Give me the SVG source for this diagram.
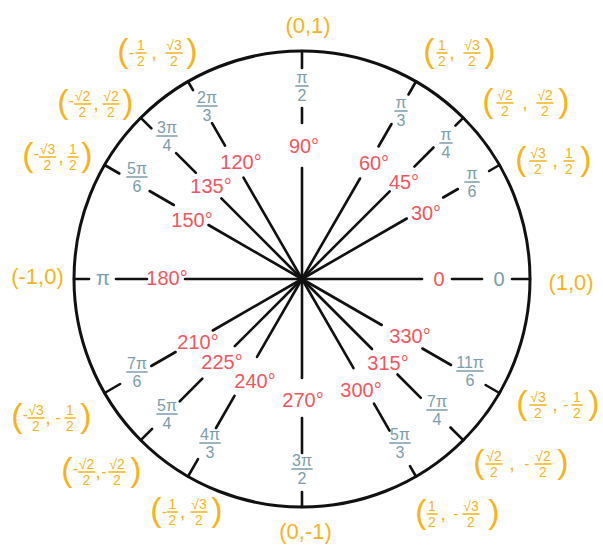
<svg xmlns="http://www.w3.org/2000/svg" width="603" height="546" viewBox="0 0 603 546">
<style>
text { font-family: "Liberation Sans", "DejaVu Sans", sans-serif; }
.ring { fill:none; stroke:#111; stroke-width:3; }
.spoke { stroke:#111; stroke-width:2.6; stroke-linecap:round; fill:none; }
.deg { fill:#F4555E; font-size:20px; text-anchor:middle; }
.rad { fill:#7C9DAA; font-size:16px; text-anchor:middle; }
.radb { fill:#7C9DAA; font-size:20px; text-anchor:middle; }
.rbar { stroke:#7C9DAA; stroke-width:1.7; stroke-linecap:round; }
.co { fill:#F6B31B; text-anchor:middle; }
.cs { font-size:22px; }
.cp { font-size:34px; }
.cf { font-size:14px; }
.cm { font-size:16px; }
.cc { font-size:20px; }
.cbar { stroke:#F6B31B; stroke-width:1.6; stroke-linecap:round; }
</style>
<rect width="603" height="546" fill="#fff"/>
<g id="unit-circle"><circle class="ring" cx="302" cy="279" r="228"/></g>
<g id="connectors">
<line class="spoke" x1="302" y1="279" x2="422" y2="279"/><line class="spoke" x1="452" y1="279" x2="482" y2="279"/><line class="spoke" x1="512" y1="279" x2="530" y2="279"/>
<line class="spoke" x1="302" y1="279" x2="406.8" y2="218.5"/><line class="spoke" x1="443.2" y1="197.5" x2="457.9" y2="189"/><line class="spoke" x1="489.1" y1="171" x2="499.4" y2="165"/>
<line class="spoke" x1="302" y1="279" x2="389.7" y2="191.3"/><line class="spoke" x1="414.4" y1="166.6" x2="433.5" y2="147.5"/><line class="spoke" x1="455.4" y1="125.6" x2="463.2" y2="117.8"/>
<line class="spoke" x1="302" y1="279" x2="360" y2="178.5"/><line class="spoke" x1="378.5" y1="146.5" x2="391.5" y2="124"/><line class="spoke" x1="408.5" y1="94.5" x2="416" y2="81.5"/>
<line class="spoke" x1="302" y1="279" x2="302" y2="168"/><line class="spoke" x1="302" y1="123" x2="302" y2="108"/><line class="spoke" x1="302" y1="68" x2="302" y2="51"/>
<line class="spoke" x1="302" y1="279" x2="243.5" y2="177.7"/><line class="spoke" x1="225" y1="145.6" x2="212" y2="123.1"/><line class="spoke" x1="193" y1="90.2" x2="188" y2="81.5"/>
<line class="spoke" x1="302" y1="279" x2="221.4" y2="198.4"/><line class="spoke" x1="195.9" y1="172.9" x2="176.1" y2="153.1"/><line class="spoke" x1="151.4" y1="128.4" x2="140.8" y2="117.8"/>
<line class="spoke" x1="302" y1="279" x2="208.5" y2="225"/><line class="spoke" x1="173.8" y1="205" x2="149.6" y2="191"/><line class="spoke" x1="119.3" y1="173.5" x2="104.6" y2="165"/>
<line class="spoke" x1="302" y1="279" x2="185" y2="279"/><line class="spoke" x1="147" y1="279" x2="116" y2="279"/><line class="spoke" x1="89" y1="279" x2="74" y2="279"/>
<line class="spoke" x1="302" y1="279" x2="212.8" y2="330.5"/><line class="spoke" x1="175.6" y1="352" x2="151.3" y2="366"/><line class="spoke" x1="120.1" y1="384" x2="104.6" y2="393"/>
<line class="spoke" x1="302" y1="279" x2="234.8" y2="346.2"/><line class="spoke" x1="202.3" y1="378.7" x2="179.7" y2="401.3"/><line class="spoke" x1="152.1" y1="428.9" x2="140.8" y2="440.2"/>
<line class="spoke" x1="302" y1="279" x2="257" y2="356.9"/><line class="spoke" x1="234.5" y1="395.9" x2="216" y2="428"/><line class="spoke" x1="198" y1="459.1" x2="188" y2="476.5"/>
<line class="spoke" x1="302" y1="279" x2="302" y2="378"/><line class="spoke" x1="302" y1="418" x2="302" y2="453"/><line class="spoke" x1="302" y1="492" x2="302" y2="507"/>
<line class="spoke" x1="302" y1="279" x2="353.5" y2="368.2"/><line class="spoke" x1="374" y1="403.7" x2="389.5" y2="430.6"/><line class="spoke" x1="410" y1="466.1" x2="416" y2="476.5"/>
<line class="spoke" x1="302" y1="279" x2="372" y2="349"/><line class="spoke" x1="397.5" y1="374.5" x2="420.8" y2="397.8"/><line class="spoke" x1="450.5" y1="427.5" x2="463.2" y2="440.2"/>
<line class="spoke" x1="302" y1="279" x2="381.7" y2="325"/><line class="spoke" x1="422.4" y1="348.5" x2="451" y2="365"/><line class="spoke" x1="485.6" y1="385" x2="499.4" y2="393"/>
</g>

<g id="angle-0">
<text class="deg" x="439" y="286">0</text>
<text class="radb" x="499" y="286">0</text>
<text class="co cs" x="571" y="290">(1,0)</text>
</g>

<g id="angle-30">
<text class="deg" x="426" y="220">30°</text>
<text class="rad" x="472" y="179">π</text><line class="rbar" x1="465" y1="182" x2="479" y2="182"/><text class="rad" x="472" y="197">6</text>
<text class="co cp" x="521" y="170">(</text>
<text class="co cf" x="538" y="158">√3</text><line class="cbar" x1="530" y1="161" x2="546" y2="161"/><text class="co cf" x="538" y="174">2</text>
<text class="co cc" x="555" y="167">,</text>
<text class="co cf" x="569" y="158">1</text><line class="cbar" x1="564" y1="161" x2="574" y2="161"/><text class="co cf" x="569" y="174">2</text>
<text class="co cp" x="586" y="170">)</text>
</g>

<g id="angle-45">
<text class="deg" x="404" y="189">45°</text>
<text class="rad" x="446" y="140">π</text><line class="rbar" x1="440" y1="143" x2="452" y2="143"/><text class="rad" x="446" y="158">4</text>
<text class="co cp" x="488" y="112">(</text>
<text class="co cf" x="505" y="100">√2</text><line class="cbar" x1="497" y1="103" x2="513" y2="103"/><text class="co cf" x="505" y="116">2</text>
<text class="co cc" x="525" y="109">,</text>
<text class="co cf" x="545" y="100">√2</text><line class="cbar" x1="537" y1="103" x2="553" y2="103"/><text class="co cf" x="545" y="116">2</text>
<text class="co cp" x="564" y="112">)</text>
</g>

<g id="angle-60">
<text class="deg" x="374" y="170">60°</text>
<text class="rad" x="401" y="108">π</text><line class="rbar" x1="395" y1="111" x2="407" y2="111"/><text class="rad" x="401" y="126">3</text>
<text class="co cp" x="429" y="62">(</text>
<text class="co cf" x="442" y="50">1</text><line class="cbar" x1="437" y1="53" x2="447" y2="53"/><text class="co cf" x="442" y="66">2</text>
<text class="co cc" x="452" y="59">,</text>
<text class="co cf" x="472" y="50">√3</text><line class="cbar" x1="464" y1="53" x2="480" y2="53"/><text class="co cf" x="472" y="66">2</text>
<text class="co cp" x="490" y="62">)</text>
</g>

<g id="angle-90">
<text class="deg" x="304" y="153">90°</text>
<text class="rad" x="302" y="83">π</text><line class="rbar" x1="296" y1="86" x2="308" y2="86"/><text class="rad" x="302" y="101">2</text>
<text class="co cs" x="308" y="33">(0,1)</text>
</g>

<g id="angle-120">
<text class="deg" x="241" y="169">120°</text>
<text class="rad" x="207" y="103">2π</text><line class="rbar" x1="197" y1="106" x2="217" y2="106"/><text class="rad" x="207" y="121">3</text>
<text class="co cp" x="123" y="62">(</text>
<text class="co cm" x="131.5" y="58">-</text>
<text class="co cf" x="141" y="50">1</text><line class="cbar" x1="136" y1="53" x2="146" y2="53"/><text class="co cf" x="141" y="66">2</text>
<text class="co cc" x="154" y="59">,</text>
<text class="co cf" x="174" y="50">√3</text><line class="cbar" x1="166" y1="53" x2="182" y2="53"/><text class="co cf" x="174" y="66">2</text>
<text class="co cp" x="192" y="62">)</text>
</g>

<g id="angle-135">
<text class="deg" x="211" y="193">135°</text>
<text class="rad" x="167" y="133">3π</text><line class="rbar" x1="157" y1="136" x2="177" y2="136"/><text class="rad" x="167" y="151">4</text>
<text class="co cp" x="63" y="113">(</text>
<text class="co cm" x="71.5" y="106">-</text>
<text class="co cf" x="82.5" y="101">√2</text><line class="cbar" x1="74.5" y1="104" x2="90.5" y2="104"/><text class="co cf" x="82.5" y="117">2</text>
<text class="co cc" x="96" y="110">,</text>
<text class="co cf" x="111" y="101">√2</text><line class="cbar" x1="103" y1="104" x2="119" y2="104"/><text class="co cf" x="111" y="117">2</text>
<text class="co cp" x="128" y="113">)</text>
</g>

<g id="angle-150">
<text class="deg" x="192" y="227">150°</text>
<text class="rad" x="137" y="174">5π</text><line class="rbar" x1="127" y1="177" x2="147" y2="177"/><text class="rad" x="137" y="192">6</text>
<text class="co cp" x="28" y="166">(</text>
<text class="co cm" x="36.5" y="159">-</text>
<text class="co cf" x="47.5" y="154">√3</text><line class="cbar" x1="39.5" y1="157" x2="55.5" y2="157"/><text class="co cf" x="47.5" y="170">2</text>
<text class="co cc" x="61" y="163">,</text>
<text class="co cf" x="73" y="154">1</text><line class="cbar" x1="68" y1="157" x2="78" y2="157"/><text class="co cf" x="73" y="170">2</text>
<text class="co cp" x="87" y="166">)</text>
</g>

<g id="angle-180">
<text class="deg" x="167" y="285">180°</text>
<text class="radb" x="103" y="285">π</text>
<text class="co cs" x="37.5" y="284">(-1,0)</text>
</g>

<g id="angle-210">
<text class="deg" x="198" y="349">210°</text>
<text class="rad" x="137" y="369">7π</text><line class="rbar" x1="127" y1="372" x2="147" y2="372"/><text class="rad" x="137" y="387">6</text>
<text class="co cp" x="17" y="427">(</text>
<text class="co cm" x="25.5" y="420">-</text>
<text class="co cf" x="36" y="415">√3</text><line class="cbar" x1="28" y1="418" x2="44" y2="418"/><text class="co cf" x="36" y="431">2</text>
<text class="co cc" x="48" y="424">,</text>
<text class="co cm" x="58" y="423">-</text>
<text class="co cf" x="70" y="415">1</text><line class="cbar" x1="65" y1="418" x2="75" y2="418"/><text class="co cf" x="70" y="431">2</text>
<text class="co cp" x="86" y="427">)</text>
</g>

<g id="angle-225">
<text class="deg" x="222" y="369">225°</text>
<text class="rad" x="167" y="411">5π</text><line class="rbar" x1="157" y1="414" x2="177" y2="414"/><text class="rad" x="167" y="429">4</text>
<text class="co cp" x="67" y="481">(</text>
<text class="co cm" x="75.5" y="474">-</text>
<text class="co cf" x="86.5" y="469">√2</text><line class="cbar" x1="78.5" y1="472" x2="94.5" y2="472"/><text class="co cf" x="86.5" y="485">2</text>
<text class="co cc" x="98" y="478">,</text>
<text class="co cm" x="104" y="477">-</text>
<text class="co cf" x="117" y="469">√2</text><line class="cbar" x1="109" y1="472" x2="125" y2="472"/><text class="co cf" x="117" y="485">2</text>
<text class="co cp" x="136" y="481">)</text>
</g>

<g id="angle-240">
<text class="deg" x="255" y="388">240°</text>
<text class="rad" x="210" y="440">4π</text><line class="rbar" x1="200" y1="443" x2="220" y2="443"/><text class="rad" x="210" y="458">3</text>
<text class="co cp" x="156" y="521">(</text>
<text class="co cm" x="164.5" y="517">-</text>
<text class="co cf" x="172.5" y="509">1</text><line class="cbar" x1="167.5" y1="512" x2="177.5" y2="512"/><text class="co cf" x="172.5" y="525">2</text>
<text class="co cc" x="182.5" y="518">,</text>
<text class="co cf" x="199" y="509">√3</text><line class="cbar" x1="191" y1="512" x2="207" y2="512"/><text class="co cf" x="199" y="525">2</text>
<text class="co cp" x="217" y="521">)</text>
</g>

<g id="angle-270">
<text class="deg" x="303" y="407">270°</text>
<text class="rad" x="302" y="466">3π</text><line class="rbar" x1="292" y1="469" x2="312" y2="469"/><text class="rad" x="302" y="484">2</text>
<text class="co cs" x="305.5" y="539">(0,-1)</text>
</g>

<g id="angle-300">
<text class="deg" x="361" y="397">300°</text>
<text class="rad" x="400" y="440">5π</text><line class="rbar" x1="390" y1="443" x2="410" y2="443"/><text class="rad" x="400" y="458">3</text>
<text class="co cp" x="421" y="523">(</text>
<text class="co cf" x="432" y="511">1</text><line class="cbar" x1="427" y1="514" x2="437" y2="514"/><text class="co cf" x="432" y="527">2</text>
<text class="co cc" x="443" y="520">,</text>
<text class="co cm" x="456" y="519">-</text>
<text class="co cf" x="471" y="511">√3</text><line class="cbar" x1="463" y1="514" x2="479" y2="514"/><text class="co cf" x="471" y="527">2</text>
<text class="co cp" x="494" y="523">)</text>
</g>

<g id="angle-315">
<text class="deg" x="388" y="370">315°</text>
<text class="rad" x="437" y="407">7π</text><line class="rbar" x1="427" y1="410" x2="447" y2="410"/><text class="rad" x="437" y="425">4</text>
<text class="co cp" x="479" y="473">(</text>
<text class="co cf" x="494" y="461">√2</text><line class="cbar" x1="486" y1="464" x2="502" y2="464"/><text class="co cf" x="494" y="477">2</text>
<text class="co cc" x="512" y="470">,</text>
<text class="co cm" x="527" y="469">-</text>
<text class="co cf" x="543" y="461">√2</text><line class="cbar" x1="535" y1="464" x2="551" y2="464"/><text class="co cf" x="543" y="477">2</text>
<text class="co cp" x="563" y="473">)</text>
</g>

<g id="angle-330">
<text class="deg" x="410" y="343">330°</text>
<text class="rad" x="470" y="368">11π</text><line class="rbar" x1="457" y1="371" x2="483" y2="371"/><text class="rad" x="470" y="386">6</text>
<text class="co cp" x="522" y="414">(</text>
<text class="co cf" x="538" y="402">√3</text><line class="cbar" x1="530" y1="405" x2="546" y2="405"/><text class="co cf" x="538" y="418">2</text>
<text class="co cc" x="555" y="411">,</text>
<text class="co cm" x="566" y="410">-</text>
<text class="co cf" x="577" y="402">1</text><line class="cbar" x1="572" y1="405" x2="582" y2="405"/><text class="co cf" x="577" y="418">2</text>
<text class="co cp" x="594" y="414">)</text>
</g>
</svg>
